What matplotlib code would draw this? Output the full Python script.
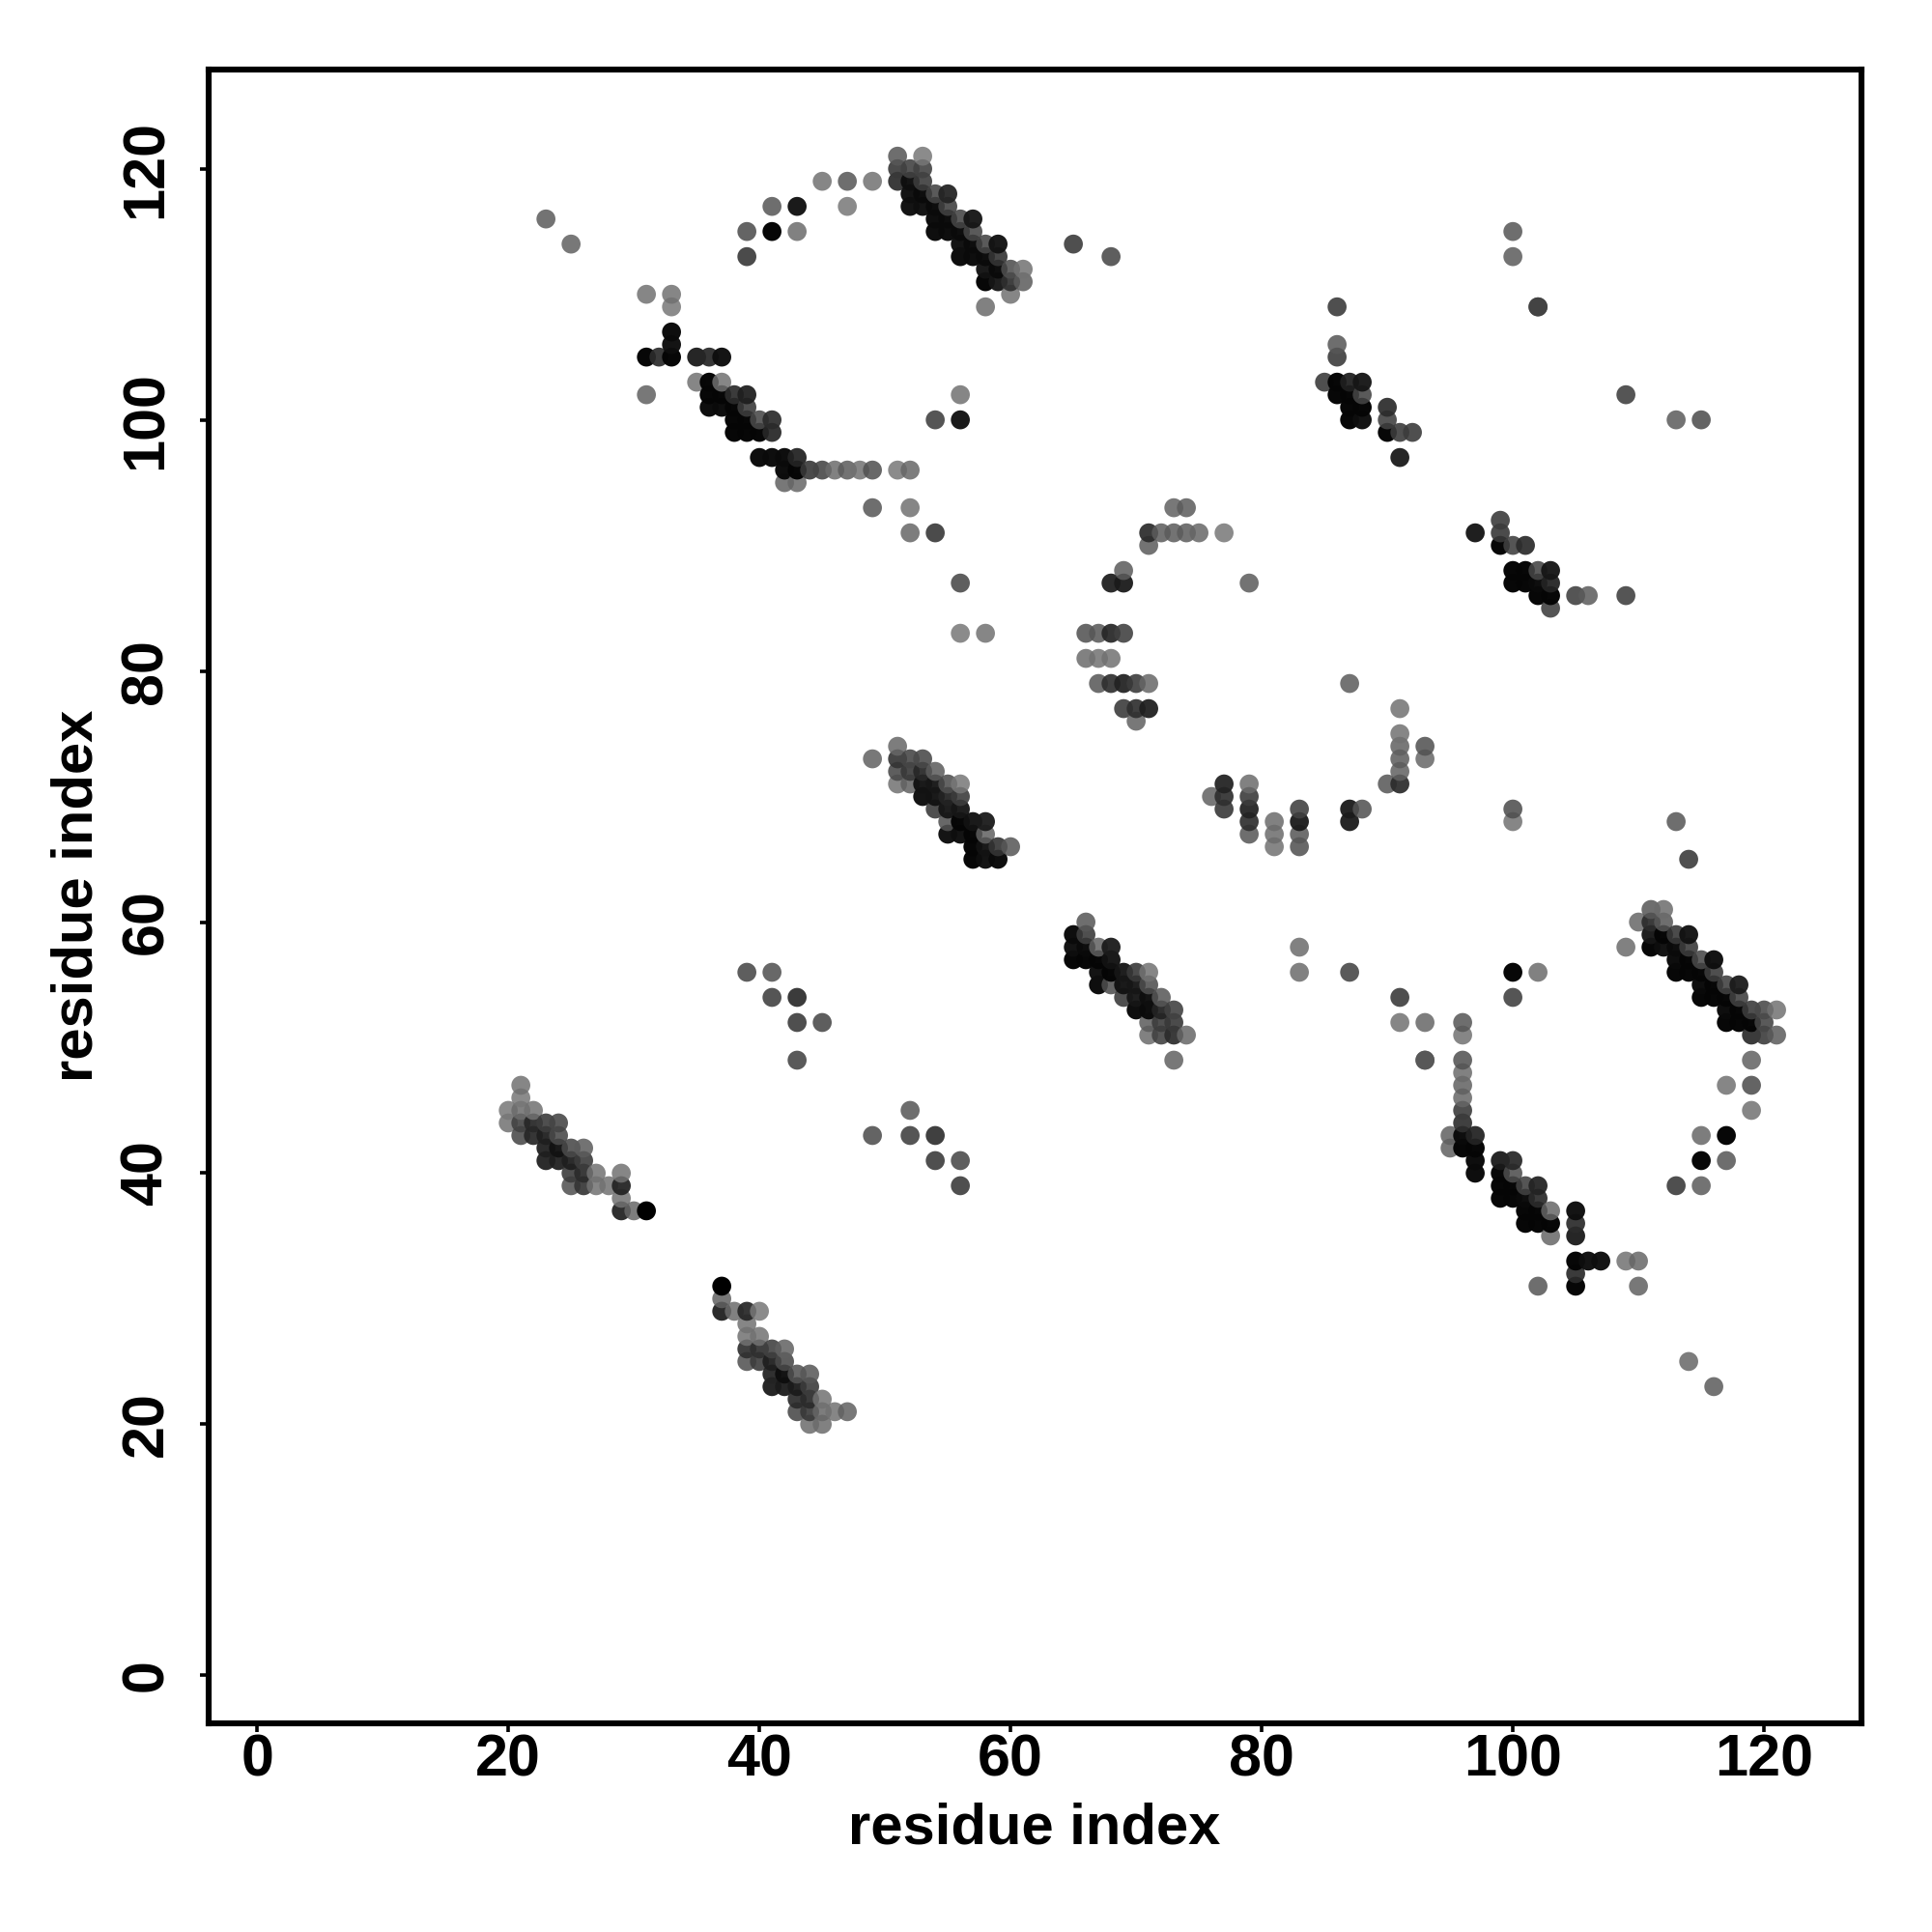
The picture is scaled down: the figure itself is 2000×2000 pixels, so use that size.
import numpy as np
import matplotlib
matplotlib.use("Agg")
import matplotlib.pyplot as plt

plt.rcParams['font.family'] = ['Liberation Sans', 'DejaVu Sans']

tick_values = [0, 20, 40, 60, 80, 100, 120]
axis_title = "residue index"

# residue pairs, with the apparent grey level (0 black .. 255 white)
residue_x = [
 23,25,39,39,41,41,43,43,45,47,47,49,
 51,53, 51,52,53, 51,52,53, 52,53,54,55, 52,53,54,55, 54,55,56,57, 54,55,56,57,
 56,57,58,59, 56,57,58,59, 58,59,60,61, 58,59,60,61, 60, 58,
 31,33, 33, 33, 33, 31,32,33,35,36,37, 35,36,37, 31,36,37,38,39, 36,37,38,39,
 38,39,40,41,54,56, 56, 38,39,40,41, 40,41,42,43,
 42,43,44,45,46,47,48,49,51,52, 42,43, 49,52, 52,54, 56,56,58, 65,68,
 73,74, 71,72,73,74,75,77, 71, 69, 68,69,79, 66,67,68,69, 66,67,68,
 67,68,69,70,71,87, 69,70,71,91, 70, 91, 91,93, 91,93, 91,
 77,79,90,91, 76,77,79, 77,79,83,87,88, 79,81,83,87, 79,81,83, 81,83,
 86,102, 86, 86, 85,86,87,88, 86,87,88,109, 87,88,90, 87,88,90, 90,91,92, 91,
 99, 97,99, 99,100,101, 100,101,102,103, 100,101,102,103, 102,103,105,106,109, 103,
 100,100,102,113,115, 100,100,113,114,
 83,83,87,91,91,93,93,100,100,102,102,
 96,96,93,96,96,96,96,96,96, 95,96,97, 95,96,97, 97, 97,
 99,100, 99,100, 99,100,101,102, 99,100,101,102, 101,102,103,105, 101,102,103,105, 103,105,
 105,106,107,109, 105, 105, 110,110,114,116,
 111,112, 110,111,112, 111,112,113,114, 109,111,112,113,114, 113,114,115,116, 113,114,115,116,
 115,116,117,118, 115,116,117,118, 117,118,119,120,121, 117,118,119,120, 119,120,121, 119, 117,119,
 119,115,117,115,117,113,115,
 66, 65,66, 65,66,67,68, 65,66,67,68, 67,68,69,70,71, 67,68,69,70,71, 69,70,71,72,
 70,71,72,73, 71,72,73, 71,72,73,74, 73,
 49,51, 51,52,53, 51,52,53,54, 51,52,53,54,55,56, 53,54,55,56, 54,55,56,
 55,56,57,58, 55,56,57,58, 57,58,59,60, 57,58,59,
 39,41,41,43,43,45,43, 49,52,52,54,54,56,56,
 21, 21, 20,21,22, 20,21,22,23,24, 21,22,23,24, 23,24,25,26, 23,24,25,26,
 25,26,27,29, 25,26,27,28,29, 29, 29,30,31,
 37, 37, 37,38,39,40, 39, 39,40, 39,40,41,42, 39,40,41,42, 41,42,43,44, 41,42,43,44,
 43,44,45, 43,44,45,46,47, 44,45,
]
residue_y = [
 116,114,115,113,117,115,117,115,119,119,117,119,
 121,121, 120,120,120, 119,119,119, 118,118,118,118, 117,117,117,117, 116,116,116,116, 115,115,115,115,
 114,114,114,114, 113,113,113,113, 112,112,112,112, 111,111,111,111, 110, 109,
 110,110, 109, 107, 106, 105,105,105,105,105,105, 103,103,103, 102,102,102,102,102, 101,101,101,101,
 100,100,100,100,100,100, 102, 99,99,99,99, 97,97,97,97,
 96,96,96,96,96,96,96,96,96,96, 95,95, 93,93, 91,91, 87,83,83, 114,113,
 93,93, 91,91,91,91,91,91, 90, 88, 87,87,87, 83,83,83,83, 81,81,81,
 79,79,79,79,79,79, 77,77,77,77, 76, 75, 74,74, 73,73, 72,
 71,71,71,71, 70,70,70, 69,69,69,69,69, 68,68,68,68, 67,67,67, 66,66,
 109,109, 106, 105, 103,103,103,103, 102,102,102,102, 101,101,101, 100,100,100, 99,99,99, 97,
 92, 91,91, 90,90,90, 88,88,88,88, 87,87,87,87, 86,86,86,86,86, 85,
 115,113,109,100,100, 69,68,68,65,
 58,56,56,54,52,52,49,56,54,56,31,
 52,51,49,49,48,47,46,45,44, 43,43,43, 42,42,42, 41, 40,
 41,41, 40,40, 39,39,39,39, 38,38,38,38, 37,37,37,37, 36,36,36,36, 35,35,
 33,33,33,33, 32, 31, 33,31,25,23,
 61,61, 60,60,60, 59,59,59,59, 58,58,58,58,58, 57,57,57,57, 56,56,56,56,
 55,55,55,55, 54,54,54,54, 53,53,53,53,53, 52,52,52,52, 51,51,51, 49, 47,47,
 45,43,43,41,41,39,39,
 60, 59,59, 58,58,58,58, 57,57,57,57, 56,56,56,56,56, 55,55,55,55,55, 54,54,54,54,
 53,53,53,53, 52,52,52, 51,51,51,51, 49,
 73,74, 73,73,73, 72,72,72,72, 71,71,71,71,71,71, 70,70,70,70, 69,69,69,
 68,68,68,68, 67,67,67,67, 66,66,66,66, 65,65,65,
 56,56,54,54,52,52,49, 43,45,43,43,41,41,39,
 47, 46, 45,45,45, 44,44,44,44,44, 43,43,43,43, 42,42,42,42, 41,41,41,41,
 40,40,40,40, 39,39,39,39,39, 38, 37,37,37,
 31, 30, 29,29,29,29, 28, 27,27, 26,26,26,26, 25,25,25,25, 24,24,24,24, 23,23,23,23,
 22,22,22, 21,21,21,21,21, 20,20,
]
grey_level = [
 105,110,90,65,100,5,20,120,125,100,130,125,
 100,130, 65,75,75, 50,15,70, 15,10,80,40, 15,15,10,75, 10,10,80,25, 10,10,10,80,
 15,10,80,20, 10,10,10,60, 20,10,90,125, 5,25,55,105, 125, 120,
 125,125, 130, 10, 15, 5,50,5,30,45,15, 125,5,125, 110,5,5,50,35, 10,10,5,70,
 5,5,85,50,75,20, 125, 5,5,5,45, 10,10,10,40,
 10,5,65,80,120,105,125,95,130,115, 110,115, 100,125, 115,65, 85,130,125, 70,85,
 110,105, 50,105,105,105,115,130, 105, 105, 35,30,105, 95,100,45,75, 120,125,125,
 100,55,40,70,115,105, 70,55,35,125, 110, 125, 110,95, 105,115, 110,
 40,120,100,50, 110,55,70, 65,40,75,30,95, 55,120,30,30, 100,120,100, 125,95,
 70,75, 100, 70, 70,5,35,25, 5,5,80,75, 5,5,50, 5,15,75, 5,70,70, 30,
 70, 25,65, 5,75,50, 5,5,80,25, 5,5,10,40, 5,5,75,105,75, 75,
 100,105,75,105,90, 90,125,100,70,
 120,120,80,70,125,115,90,5,75,120,100,
 100,125,100,95,120,110,115,70,55, 110,10,40, 110,5,5, 10, 10,
 30,45, 5,90, 5,5,75,40, 5,5,10,50, 5,5,115,15, 5,5,5,50, 115,30,
 5,15,15,125, 50, 5, 115,110,115,105,
 100,120, 115,50,100, 25,5,65,20, 120,5,15,10,70, 10,5,85,15, 5,5,5,70,
 10,5,75,30, 5,5,5,75, 10,5,70,85,125, 5,5,5,80, 50,70,105, 110, 125,90,
 125,115,5,5,100,70,105,
 100, 10,70, 15,10,110,30, 5,5,5,20, 15,5,25,65,125, 10,90,20,25,90, 70,25,15,100,
 10,10,40,75, 105,70,65, 120,75,50,115, 110,
 110,115, 60,80,85, 85,65,45,105, 125,110,20,25,90,130, 15,20,40,70, 70,25,25,
 95,5,20,30, 15,15,5,110, 5,20,60,100, 5,15,10,
 85,95,75,50,70,85,80, 90,100,75,55,70,85,70,
 125, 130, 130,120,125, 125,75,45,70,80, 85,45,35,85, 35,20,85,105, 35,35,35,70,
 70,50,125,125, 95,60,125,125,40, 125, 40,115,0,
 0, 110, 35,120,45,130, 125, 125,125, 55,55,75,110, 95,70,35,85, 40,15,95,100, 30,30,30,70,
 50,50,125, 85,65,115,125,110, 120,120,
]

fig = plt.figure(figsize=(10, 10), dpi=200)
ax = fig.add_axes([216 / 2000, 216 / 2000, 1711 / 2000, 1712 / 2000])

x = np.array(residue_x, dtype=float)
y = np.array(residue_y, dtype=float)
g = (np.array(grey_level, dtype=float) / 255.0) ** 0.9

# slightly see-through dots, darker where they overlap; fully opaque when black
alpha = 1 - 0.15 * np.minimum(1, g / 0.47)
c = np.clip((g - (1 - alpha)) / alpha, 0, 1)
rgba = np.column_stack([c, c, c, alpha])

order = np.lexsort((y, x))
ax.scatter(x[order], y[order], s=50, c=rgba[order], linewidths=0, zorder=3)

ax.set_xlim(-3.86, 127.76)
ax.set_ylim(-3.82, 127.9)

ax.set_xticks(tick_values)
ax.set_yticks(tick_values)
ax.set_xticklabels([str(v) for v in tick_values], fontsize=22, fontweight='bold')
ax.set_yticklabels([str(v) for v in tick_values], fontsize=22, fontweight='bold',
                   rotation=90, va='center')
ax.tick_params(axis='x', length=3.3, width=1.3, pad=0.6)
ax.tick_params(axis='y', length=3.3, width=1.3, pad=9.3)

for s in ax.spines.values():
    s.set_linewidth(2.2)

fig.text(1071 / 2000, 1 - 1893 / 2000, axis_title, fontsize=21.5, fontweight='bold',
         ha='center', va='center')
fig.text(80 / 2000, 1 - 927 / 2000, axis_title, fontsize=21.5, fontweight='bold',
         ha='center', va='center', rotation=90)

fig.savefig("out.png", dpi=200, facecolor='white')
